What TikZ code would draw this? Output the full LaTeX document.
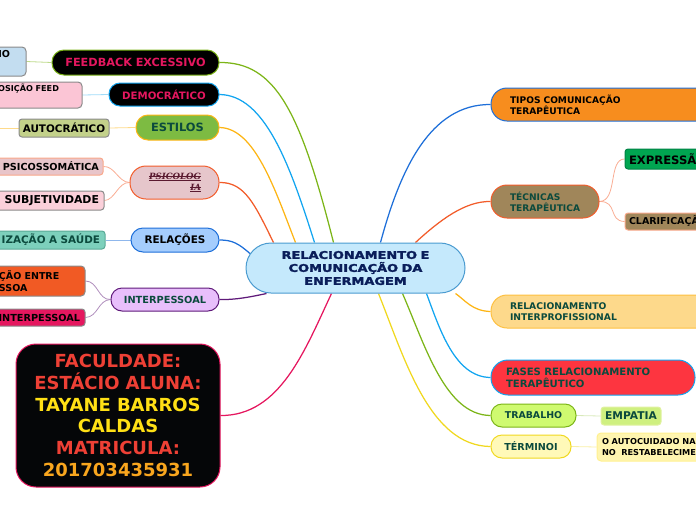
\documentclass[tikz,border=0pt]{standalone}
\usepackage{fontspec}
\setmainfont{DejaVu Sans}
\newfontfamily\serifbold{DejaVu Serif}
\newfontfamily\heavyfont[FakeBold=2.4,FakeStretch=1.22]{DejaVu Sans Bold}
\usetikzlibrary{backgrounds}
\definecolor{darkgreen}{HTML}{0B4A3D}
\definecolor{hotpink}{HTML}{E5175F}
\definecolor{lime}{HTML}{7CB518}
\definecolor{sky}{HTML}{12A5F0}
\definecolor{amber}{HTML}{FDB515}
\definecolor{rust}{HTML}{F25C2A}
\definecolor{royal}{HTML}{1E6FD9}
\definecolor{plum}{HTML}{5F1A7A}
\definecolor{gold}{HTML}{F0D820}
\definecolor{leafedge}{HTML}{8A8A8A}
\newcommand\mmbox[8]{% name,x1,y1,x2,y2,radius,pad,opts + text follows
  \pgfmathsetmacro\mmw{#4-(#2)}\pgfmathsetmacro\mmh{#5-(#3)}%
  \pgfmathsetmacro\mmx{(#2+#4)/2}\pgfmathsetmacro\mmy{(#3+#5)/2}%
  \pgfmathsetmacro\mmt{\mmw-2*#7}%
  \node[rectangle,rounded corners=#6pt,inner sep=0pt,minimum width=\mmw pt,minimum height=\mmh pt,text width=\mmt pt,line width=1pt,font=\bfseries,#8] (#1) at (\mmx,\mmy)}
\newcommand\strk[1]{\leavevmode\setbox0\hbox{#1}\rlap{\rule[.3em]{\wd0}{.5pt}}\rlap{\rule[-.18em]{\wd0}{.5pt}}\box0}
\tikzset{
  main/.style={line width=1.25pt},
  twig/.style={line width=.8pt},
}
\begin{document}
\begin{tikzpicture}[x=1pt,y=-1pt]
\useasboundingbox (0,0) rectangle (696,520);
\clip (0,0) rectangle (696,520);
% centre
\mmbox{centre}{246}{243}{465}{293}{25}{10}{fill={rgb,255:red,197;green,233;blue,252},draw={rgb,255:red,74;green,155;blue,208},align=center,text={rgb,255:red,10;green,30;blue,90},font=\heavyfont\fontsize{10.6}{13}\selectfont}{RELACIONAMENTO E\\COMUNICAÇÃO DA\\ENFERMAGEM};
% left main
\mmbox{feed}{52}{50}{219}{75}{12}{4}{fill=black,draw=lime,text=hotpink,align=center,font=\bfseries\fontsize{11.25}{13}\selectfont}{FEEDBACK EXCESSIVO};
\mmbox{demo}{109}{83}{219}{106}{11}{4}{fill=black,draw=sky,text=hotpink,align=center,font=\bfseries\fontsize{10.2}{12}\selectfont}{DEMOCRÁTICO};
\mmbox{estilos}{136}{115}{219}{140}{12}{4}{fill={rgb,255:red,125;green,187;blue,66},draw=amber,text=darkgreen,align=center,font=\bfseries\fontsize{11.4}{13}\selectfont}{ESTILOS};
\mmbox{psi}{130}{166}{219}{199}{16}{18}{fill={rgb,255:red,230;green,198;blue,203},draw=rust,text={rgb,255:red,90;green,26;blue,48},align=right,font=\serifbold\bfseries\itshape\fontsize{8.6}{11}\selectfont}{\strk{PSICOLOG}\\\strk{IA}};
\mmbox{rel}{131}{228}{219}{252}{12}{4}{fill={rgb,255:red,165;green,205;blue,253},draw=royal,text=black,align=center,font=\bfseries\fontsize{10.4}{12}\selectfont}{RELAÇÕES};
\mmbox{inter}{111}{288}{219}{311}{11}{4}{fill={rgb,255:red,232;green,191;blue,251},draw=plum,text=darkgreen,align=center,font=\bfseries\fontsize{9.8}{12}\selectfont}{INTERPESSOAL};
\mmbox{fac}{16}{344}{220}{487}{20}{4}{fill={rgb,255:red,5;green,6;blue,8},draw=hotpink,align=center,font=\bfseries\fontsize{18}{21.8}\selectfont}{\textcolor[HTML]{EE4035}{FACULDADE:}\\\textcolor[HTML]{EE4035}{ESTÁCIO ALUNA:}\\\textcolor[HTML]{FFE015}{TAYANE BARROS}\\\textcolor[HTML]{FFE015}{CALDAS}\\\textcolor[HTML]{EE4035}{MATRICULA:}\\\textcolor[HTML]{F9A61E}{201703435931}};
% left leaves
\mmbox{lnao}{-60}{47}{26}{76}{4}{16}{fill={rgb,255:red,195;green,221;blue,240},draw=leafedge,align=right,font=\bfseries\fontsize{9.6}{11}\selectfont}{NO\\\strut};
\mmbox{lpos}{-60}{82}{82}{108}{4}{23}{fill={rgb,255:red,251;green,197;blue,213},draw=leafedge,align=right,font=\bfseries\fontsize{8.1}{11}\selectfont}{POSIÇÃO FEED\\\strut};
\mmbox{lauto}{19}{119}{109}{137}{3}{2}{fill={rgb,255:red,195;green,209;blue,138},draw=leafedge,align=center,font=\bfseries\fontsize{10.4}{11}\selectfont}{AUTOCRÁTICO};
\mmbox{lpsico}{-60}{158}{103}{175}{3}{4}{fill={rgb,255:red,232;green,197;blue,202},draw={rgb,255:red,249;green,168;blue,138},align=right,font=\bfseries\fontsize{9.7}{11}\selectfont}{PSICOSSOMÁTICA};
\mmbox{lsub}{-60}{191}{104}{210}{3}{5}{fill={rgb,255:red,251;green,208;blue,218},draw=leafedge,align=right,font=\bfseries\fontsize{10.9}{11}\selectfont}{SUBJETIVIDADE};
\mmbox{lsau}{-60}{231}{105}{249}{3}{5}{fill={rgb,255:red,125;green,208;blue,188},draw={rgb,255:red,90;green,170;blue,150},text=darkgreen,align=right,font=\bfseries\fontsize{10.4}{11}\selectfont}{IZAÇÃO A SAÚDE};
\mmbox{lent}{-85}{266}{85}{296}{4}{0}{fill={rgb,255:red,241;green,90;blue,36},draw=leafedge,align=left,font=\bfseries\fontsize{9.5}{12}\selectfont}{\hspace*{84pt}ÇÃO ENTRE\\\hspace*{84pt}SSOA};
\mmbox{lint}{-60}{309}{85}{326}{3}{5}{fill=hotpink,draw=leafedge,align=right,font=\bfseries\fontsize{9.7}{11}\selectfont}{INTERPESSOAL};
% right main
\mmbox{tipos}{491}{88}{720}{121}{16}{19}{fill={rgb,255:red,247;green,141;blue,30},draw=royal,align=left,font=\bfseries\fontsize{9.1}{11}\selectfont}{TIPOS COMUNICAÇÃO\\TERAPÊUTICA};
\mmbox{tecn}{491}{185}{599}{218}{16}{19}{fill={rgb,255:red,160;green,134;blue,90},draw=rust,text=darkgreen,align=left,font=\bfseries\fontsize{9.1}{11}\selectfont}{TÉCNICAS\\TERAPÊUTICA};
\mmbox{relp}{491}{295}{720}{328}{16}{19}{fill={rgb,255:red,253;green,217;blue,139},draw={rgb,255:red,253;green,192;blue,64},text=darkgreen,align=left,font=\bfseries\fontsize{9.2}{11}\selectfont}{RELACIONAMENTO\\INTERPROFISSIONAL};
\mmbox{fases}{491}{360}{695}{395}{17}{15}{fill={rgb,255:red,253;green,53;blue,64},draw=sky,text=darkgreen,align=left,font=\bfseries\fontsize{10.1}{12}\selectfont}{FASES RELACIONAMENTO\\TERAPÊUTICO};
\mmbox{trab}{491}{404}{576}{427}{11}{4}{fill={rgb,255:red,207;green,250;blue,112},draw=lime,text=darkgreen,align=center,font=\bfseries\fontsize{9.4}{11}\selectfont}{TRABALHO};
\mmbox{term}{491}{435}{571}{458}{11}{4}{fill={rgb,255:red,255;green,249;blue,184},draw=gold,text=darkgreen,align=center,font=\bfseries\fontsize{9.6}{11}\selectfont}{TÉRMINOI};
% right leaves
\mmbox{rexp}{625}{149}{760}{169}{3}{4}{fill={rgb,255:red,0;green,166;blue,81},draw={rgb,255:red,0;green,130;blue,70},align=left,font=\bfseries\fontsize{11.6}{13}\selectfont}{EXPRESSÃ};
\mmbox{rcla}{625}{213}{760}{230}{3}{4}{fill={rgb,255:red,160;green,134;blue,90},draw={rgb,255:red,249;green,168;blue,138},align=left,font=\bfseries\fontsize{9.5}{11}\selectfont}{CLARIFICAÇÃ};
\mmbox{remp}{601}{407}{661}{425}{3}{3}{fill={rgb,255:red,207;green,240;blue,128},draw={rgb,255:red,224;green,240;blue,160},text=darkgreen,align=center,font=\bfseries\fontsize{10.7}{11}\selectfont}{EMPATIA};
\mmbox{raut}{597}{433}{760}{461}{4}{5}{fill={rgb,255:red,255;green,245;blue,176},draw={rgb,255:red,255;green,240;blue,144},align=left,font=\bfseries\fontsize{8.2}{11}\selectfont}{O AUTOCUIDADO NA\\NO\ \ RESTABELECIMEN};
% connectors
\begin{scope}[on background layer]
\draw[main,lime] (feed.east) .. controls (275,62) and (300,110) .. ([xshift=-22pt]centre.north);
\draw[main,sky] (demo.east) .. controls (265,95) and (290,165) .. ([xshift=-41pt]centre.north);
\draw[main,amber] (estilos.east) .. controls (255,128) and (275,190) .. ([xshift=-60pt]centre.north);
\draw[main,rust] (psi.east) .. controls (245,182) and (255,205) .. ([xshift=-82pt]centre.north);
\draw[main,royal] (rel.east) .. controls (232,240) and (238,243) .. ([xshift=-105pt]centre.north|-0,254);
\draw[main,plum] (inter.east) .. controls (235,300) and (250,297) .. ([xshift=-89pt]centre.south);
\draw[main,hotpink] (fac.east) .. controls (280,416) and (305,350) .. ([xshift=-24pt]centre.south);
\draw[main,royal] (tipos.west) .. controls (430,104) and (400,170) .. ([xshift=25pt]centre.north);
\draw[main,rust] (tecn.west) .. controls (465,201) and (440,220) .. ([xshift=60pt]centre.north);
\draw[main,amber] (relp.west) .. controls (472,311) and (465,300) .. ([xshift=100pt]centre.south);
\draw[main,sky] (fases.west) .. controls (455,377) and (440,330) .. ([xshift=71pt]centre.south);
\draw[main,lime] (trab.west) .. controls (445,415) and (425,345) .. ([xshift=47pt]centre.south);
\draw[main,gold] (term.west) .. controls (430,446) and (405,360) .. ([xshift=23pt]centre.south);
\draw[twig,lime!50] (feed.west) -- (lnao.east);
\draw[twig,sky!40] (demo.west) -- (lpos.east);
\draw[twig,amber!50] (estilos.west) -- (lauto.east);
\draw[twig,amber!50] (lauto.west) -- (0,128);
\draw[twig,rust!50] (psi.west) .. controls (118,182) and (115,166) .. (lpsico.east);
\draw[twig,rust!50] (psi.west) .. controls (118,182) and (115,200) .. (lsub.east);
\draw[twig,royal!50] (rel.west) -- (lsau.east);
\draw[twig,plum!50] (inter.west) .. controls (98,300) and (98,281) .. (lent.east);
\draw[twig,plum!50] (inter.west) .. controls (98,300) and (98,317) .. (lint.east);
\draw[twig,rust!50] (tecn.east) .. controls (618,201) and (608,159) .. (rexp.west);
\draw[twig,rust!50] (tecn.east) .. controls (618,201) and (608,221) .. (rcla.west);
\draw[twig,lime!30] (trab.east) -- (remp.west);
\draw[twig,gold!40] (term.east) -- (raut.west);
\end{scope}
\end{tikzpicture}
\end{document}
